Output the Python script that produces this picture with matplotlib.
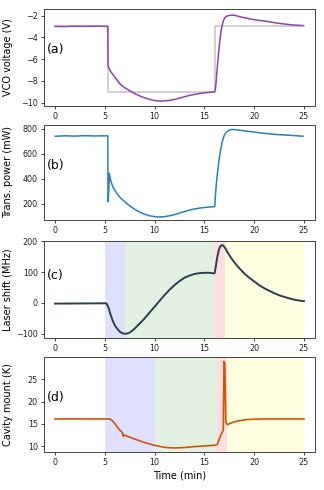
import matplotlib
matplotlib.use("Agg")
import matplotlib.pyplot as plt

# Panel (a): VCO voltage
t_a = [0, 1, 2, 3, 4, 5, 5.3, 5.32, 5.45, 5.6, 5.8, 6, 6.25, 6.5, 6.75, 7, 7.5, 8, 8.5, 9, 9.5, 10, 10.5,
       11, 11.5, 12, 12.5, 13, 13.5, 14, 14.5, 15, 15.5, 16,
       16.1, 16.2, 16.3, 16.45, 16.6, 16.75, 16.9, 17.05, 17.25, 17.6, 18, 18.5, 19, 19.5, 20, 20.5, 21,
       21.5, 22, 22.5, 23, 23.5, 24, 24.5, 24.9]
v_a = [-3.0, -3.02, -2.98, -3.0, -2.97, -3.0, -3.0, -6.6, -6.9, -7.15, -7.4, -7.65, -7.95, -8.25, -8.45, -8.62,
       -8.9, -9.15, -9.38, -9.55, -9.7, -9.8, -9.85,
       -9.83, -9.78, -9.7, -9.58, -9.45, -9.33, -9.24, -9.16, -9.1, -9.05, -9.0,
       -8.8, -7.9, -6.7, -5.2, -3.9, -3.0, -2.5, -2.2, -2.05, -1.98, -1.97, -2.1, -2.2, -2.3, -2.38, -2.45, -2.5,
       -2.58, -2.65, -2.72, -2.78, -2.83, -2.88, -2.9, -2.92]
t_set = [0, 5.3, 5.3, 16.1, 16.1, 25]
v_set = [-3, -3, -9, -9, -3, -3]

# Panel (b): transmitted power
t_b = [0, 1, 2, 3, 4, 5, 5.3, 5.32, 5.4, 5.45, 5.55, 5.7, 5.85, 6, 6.25, 6.5, 6.75, 7, 7.5, 8, 8.5, 9, 9.5,
       10, 10.5, 11, 11.5, 12, 12.5, 13, 13.5, 14, 14.5, 15, 15.5, 16,
       16.05, 16.1, 16.2, 16.3, 16.45, 16.6, 16.8, 17, 17.2, 17.45, 17.7, 18, 19, 20, 21, 22, 23, 24, 24.9]
p_b = [742, 745, 743, 746, 744, 745, 745, 220, 300, 445, 400, 360, 330, 310, 280, 255, 235, 218, 185, 158, 135, 118, 106,
       99, 96, 99, 106, 115, 127, 140, 151, 160, 167, 172, 176, 178,
       185, 260, 360, 440, 540, 620, 700, 750, 775, 788, 795, 795, 785, 775, 765, 757, 752, 747, 742]

# Panel (c): laser shift
t_c = [0, 5.1, 5.2, 5.4, 5.6, 5.8, 6.0, 6.25, 6.5, 6.75, 7, 7.25, 7.5, 7.75, 8, 8.5, 9, 9.5, 10, 10.5,
       11, 11.5, 12, 12.5, 13, 13.5, 14, 14.5, 15, 15.5, 16,
       16.05, 16.15, 16.3, 16.45, 16.6, 16.75, 16.9, 17.1, 17.3, 17.6, 18, 18.5, 19, 19.5, 20, 20.5,
       21, 21.5, 22, 22.5, 23, 23.5, 24, 24.5, 25]
f_c = [-2, -1, -3, -18, -40, -58, -72, -84, -93, -98, -100, -99, -96, -90, -83, -67, -50, -31, -12, 7,
       26, 43, 58, 71, 82, 89, 94, 97, 98, 98, 96,
       100, 120, 150, 172, 184, 188, 186, 178, 166, 150, 132, 113, 96, 82, 70, 58,
       48, 40, 32, 25, 20, 15, 11, 8, 6]

# Panel (d): cavity mount temperature
t_d = [0, 5.5, 5.75, 6, 6.25, 6.5, 6.75, 6.85, 6.95, 7.5, 8, 8.5, 9, 9.5, 10, 10.5, 11, 11.5, 12, 13, 14, 15, 16,
       16.3, 16.6, 16.9, 16.97, 17.05, 17.15, 17.3, 17.5, 17.75, 18, 18.5, 19, 19.5, 20, 21, 25]
k_d = [16.1, 16.1, 15.7, 15.1, 14.3, 13.6, 13.1, 12.2, 12.5, 12.0, 11.6, 11.2, 10.8, 10.5, 10.2, 9.95, 9.75, 9.65, 9.6,
       9.7, 9.9, 10.05, 10.2,
       10.4, 12.2, 13.6, 29.0, 28.5, 15.5, 14.8, 15.0, 15.25, 15.45, 15.7, 15.88, 15.98, 16.05, 16.1, 16.1]

spans_c = [(5, 7, 'blue'), (7, 16, 'green'), (16, 17.05, 'red'), (17.05, 25, 'yellow')]
spans_d = [(5, 10, 'blue'), (10, 16.2, 'green'), (16.2, 17.25, 'red'), (17.25, 25, 'yellow')]
span_alpha = {'blue': 0.12, 'green': 0.11, 'red': 0.12, 'yellow': 0.12}

fig = plt.figure(figsize=(3.24, 4.9), dpi=100)
L, W = 0.136, 0.836
ax_a = fig.add_axes([L, 0.7837, W, 0.198])
ax_b = fig.add_axes([L, 0.551, W, 0.194])
ax_c = fig.add_axes([L, 0.310, W, 0.198])
ax_d = fig.add_axes([L, 0.0776, W, 0.194])

ax_a.plot(t_set, v_set, color='#d0d0d0', lw=1.4, zorder=1)
ax_a.plot(t_a, v_a, color='#8e44ad', lw=1.1, zorder=2)
ax_a.set_ylabel('VCO voltage (V)', fontsize=7)
ax_a.set_yticks([-10, -8, -6, -4, -2])

ax_b.plot(t_b, p_b, color='#2980b9', lw=1.1)
ax_b.set_ylabel('Trans. power (mW)', fontsize=7)
ax_b.set_yticks([200, 400, 600, 800])

for a, b, c in spans_c:
    ax_c.axvspan(a, b, color=c, alpha=span_alpha[c], lw=0)
ax_c.plot(t_c, f_c, color='#2c3e50', lw=1.4)
ax_c.set_ylabel('Laser shift (MHz)', fontsize=7)
ax_c.set_yticks([-100, 0, 100, 200])

for a, b, c in spans_d:
    ax_d.axvspan(a, b, color=c, alpha=span_alpha[c], lw=0)
ax_d.plot(t_d, k_d, color='#d35400', lw=1.2)
ax_d.set_ylabel('Cavity mount (K)', fontsize=7)
ax_d.set_yticks([10, 15, 20, 25])
ax_d.set_xlabel('Time (min)', fontsize=7, labelpad=2)

ax_a.set_ylim(-10.3, -1.4)
ax_b.set_ylim(72, 832)
ax_c.set_ylim(-114, 201)
ax_d.set_ylim(8.7, 30)

labels = [(ax_a, '(a)', 0.58), (ax_b, '(b)', 0.57), (ax_c, '(c)', 0.65), (ax_d, '(d)', 0.57)]
for ax, lab, y in labels:
    ax.set_xlim(-1.1, 26.1)
    ax.set_xticks([0, 5, 10, 15, 20, 25])
    ax.tick_params(labelsize=5.8, width=0.6, length=2.5, pad=2, colors='#222222')
    for s in ax.spines.values():
        s.set_linewidth(0.7)
        s.set_color('#444444')
    ax.text(0.01, y, lab, transform=ax.transAxes, fontsize=9, va='center', ha='left')
    ax.yaxis.set_label_coords(-0.115, 0.5)

fig.savefig('out.png', dpi=100)
